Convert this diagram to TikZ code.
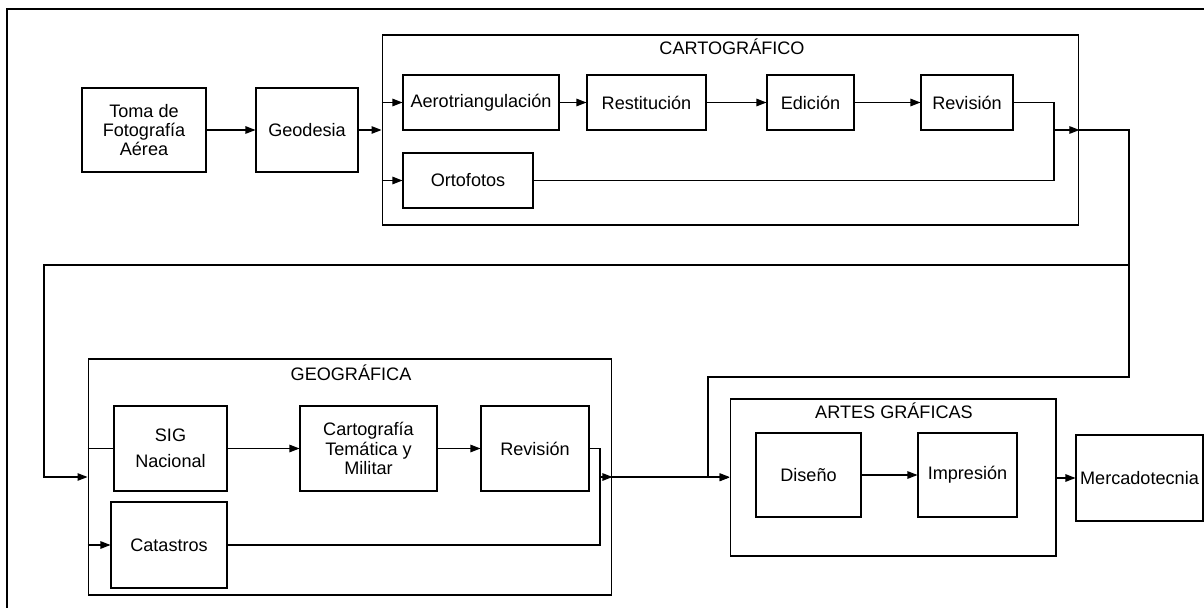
\documentclass[tikz,border=0pt]{standalone}
\usepackage{fontspec}
\setmainfont{Liberation Sans}
\usetikzlibrary{arrows.meta}

\begin{document}
\begin{tikzpicture}[x=0.02cm, y=-0.02cm, line width=0.6pt,
  >={Triangle[length=2mm,width=1.5mm]},
  box/.style={draw, align=center, inner sep=2pt, font=\fontsize{10.3}{11}\selectfont},
  group/.style={draw, inner sep=0pt},
  grouptitle/.style={inner sep=0pt, font=\fontsize{10.3}{12}\selectfont}]
  % Define the drawing area (pixels of the original sheet)
  \useasboundingbox (0,0) rectangle (1204,608);

  % --- Frame ---
  \draw[line width=1.2pt] (7,608) -- (7,9) -- (1204,9);

  % --- First stage ---
  \node[box, minimum width=2.48cm, minimum height=1.68cm] (toma) at (144,130) {Toma de\\Fotografía\\Aérea};
  \node[box, minimum width=2.04cm, minimum height=1.68cm] (geod) at (307,130) {Geodesia};
  \draw[->] (toma) -- (geod);

  % --- Cartografico ---
  \node[group, minimum width=13.94cm, minimum height=3.8cm] (carto) at (730.5,130) {};
  \node[grouptitle] (cartot) at (732,47) {CARTOGRÁFICO};
  \node[box, minimum width=3.12cm, minimum height=1.1cm] (aero) at (481,102.5) {Aerotriangulación};
  \node[box, minimum width=2.38cm, minimum height=1.1cm] (resti) at (646.5,102.5) {Restitución};
  \node[box, minimum width=1.74cm, minimum height=1.1cm] (edic) at (810.5,102.5) {Edición};
  \node[box, minimum width=1.84cm, minimum height=1.1cm] (revc) at (967,102.5) {Revisión};
  \node[box, minimum width=2.6cm, minimum height=1.1cm] (orto) at (468,180.5) {Ortofotos};
  \draw[->] (geod) -- (carto);
  \draw[->] (carto.west |- aero) -- (aero);
  \draw[->] (carto.west |- orto) -- (orto);
  \draw[->] (aero) -- (resti);
  \draw[->] (resti) -- (edic);
  \draw[->] (edic) -- (revc);
  % join of both branches
  \coordinate (cjoin) at (1054,130);
  \draw (revc) -| (cjoin);
  \draw (orto) -| (cjoin);
  \draw[->] (cjoin) -- (carto.east);

  % --- Geografica ---
  \node[group, minimum width=10.48cm, minimum height=4.72cm] (geog) at (350,477) {};
  \node[grouptitle] (geogt) at (351,373) {GEOGRÁFICA};
  \node[box, minimum width=2.26cm, minimum height=1.7cm] (sig) at (170.5,448.5) {SIG\\[4pt]Nacional};
  \node[box, minimum width=2.74cm, minimum height=1.7cm] (carte) at (368.5,448.5) {Cartografía\\Temática y\\Militar};
  \node[box, minimum width=2.16cm, minimum height=1.7cm] (revg) at (535,448.5) {Revisión};
  \node[box, minimum width=2.32cm, minimum height=1.72cm] (cata) at (169,545) {Catastros};
  \draw (geog.west |- sig) -- (sig);
  \draw[->] (geog.west |- cata) -- (cata);
  \draw[->] (sig) -- (carte);
  \draw[->] (carte) -- (revg);
  \coordinate (gjoin) at (600,477);
  \draw (revg) -| (gjoin);
  \draw (cata) -| (gjoin);
  \draw[->] (gjoin) -- (geog.east);

  % --- Artes graficas ---
  \node[group, minimum width=6.52cm, minimum height=3.14cm] (artes) at (893,477.5) {};
  \node[grouptitle] (artest) at (894,411) {ARTES GRÁFICAS};
  \node[box, minimum width=2.1cm, minimum height=1.68cm] (dise) at (808.5,475) {Diseño};
  \node[box, minimum width=1.98cm, minimum height=1.68cm] (impr) at (967.5,475) {Impresión};
  \node[box, minimum width=2.54cm, minimum height=1.72cm] (merc) at (1139.5,478) {Mercadotecnia};
  \draw[->] (dise) -- (impr);
  \draw[->] (geog.east) -- (geog.east -| artes.west);
  \draw[->] (artes.east |- merc) -- (merc);

  % --- Returns from Cartografico ---
  \coordinate (rtop) at (1129,130);
  \coordinate (rmid) at (1129,265);
  \draw (carto.east) -- (rtop) -- (rmid);
  \draw[->] (rmid) -- (44,265) |- (geog.west);
  \draw[->] (rmid) -- (1129,377) -- (708,377) |- (artes.west);

\end{tikzpicture}
\end{document}
